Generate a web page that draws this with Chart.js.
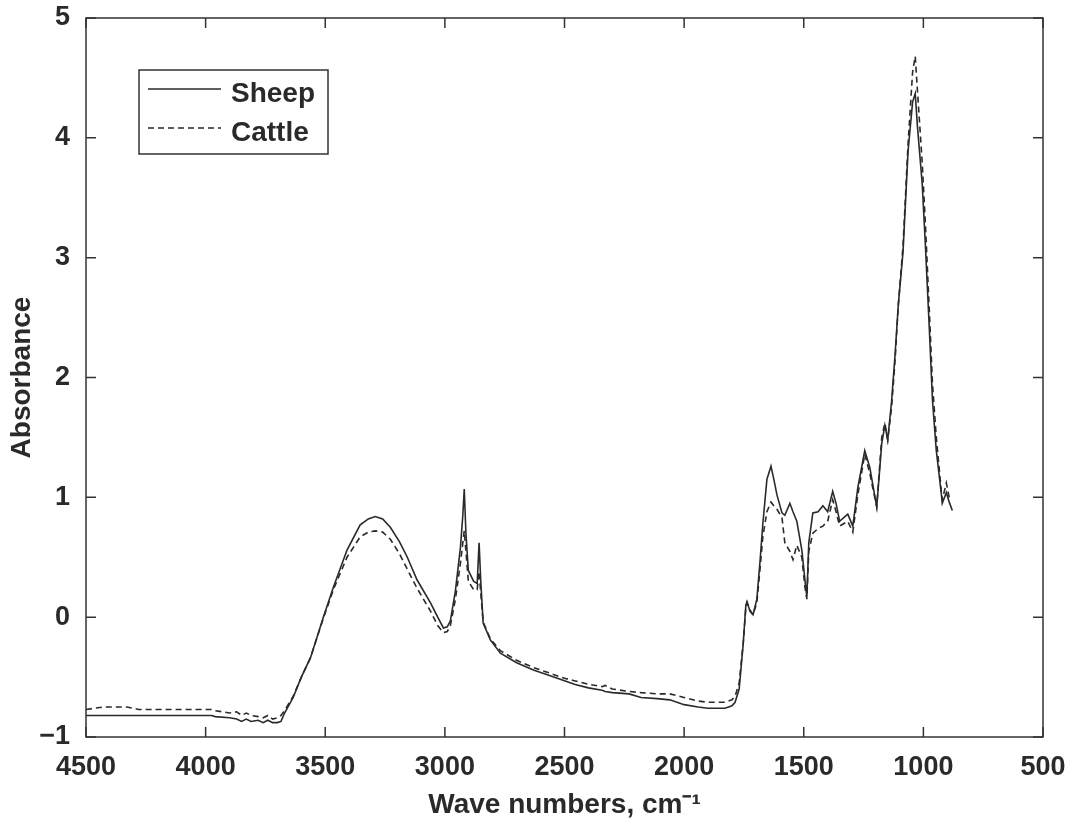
<!DOCTYPE html>
<html>
<head>
<meta charset="utf-8">
<script src="https://cdn.jsdelivr.net/npm/chart.js@4.4.0/dist/chart.umd.min.js"></script>
<style>
  html, body { margin: 0; background: #fff; }
</style>
</head>
<body>
<canvas id="graficoEspectro" width="1073" height="827"></canvas>
<script>
// --- DATOS ---
const numerosOnda = [4500, 4430, 4330, 4280, 3975, 3960, 3900, 3870, 3850, 3830, 3810, 3780, 3760, 3740, 3720, 3700, 3685, 3670, 3634, 3600, 3562, 3508, 3466, 3409, 3354, 3320, 3291, 3260, 3228, 3190, 3157, 3116, 3060, 3030, 3006, 2990, 2977, 2956, 2935, 2925, 2919, 2912, 2902, 2880, 2865, 2857, 2850, 2840, 2810, 2768, 2700, 2630, 2572, 2500, 2459, 2400, 2343, 2330, 2300, 2230, 2180, 2113, 2060, 2000, 1942, 1900, 1829, 1800, 1787, 1770, 1753, 1742, 1737, 1725, 1712, 1696, 1683, 1671, 1654, 1637, 1625, 1612, 1591, 1579, 1558, 1545, 1529, 1508, 1495, 1487, 1479, 1462, 1440, 1420, 1400, 1379, 1365, 1350, 1316, 1295, 1274, 1245, 1224, 1195, 1174, 1161, 1149, 1133, 1118, 1105, 1085, 1064, 1045, 1034, 1025, 1005, 992, 975, 962, 946, 925, 921, 904, 892, 879];

const oveja = [-0.82, -0.82, -0.82, -0.82, -0.82, -0.83, -0.84, -0.85, -0.87, -0.85, -0.87, -0.86, -0.88, -0.86, -0.88, -0.88, -0.87, -0.80, -0.67, -0.50, -0.34, 0.00, 0.25, 0.56, 0.77, 0.82, 0.84, 0.82, 0.75, 0.63, 0.50, 0.31, 0.12, 0.00, -0.09, -0.08, -0.03, 0.22, 0.58, 0.85, 1.07, 0.70, 0.39, 0.30, 0.28, 0.62, 0.30, -0.05, -0.19, -0.30, -0.38, -0.44, -0.48, -0.53, -0.56, -0.59, -0.61, -0.62, -0.63, -0.64, -0.67, -0.68, -0.69, -0.73, -0.75, -0.76, -0.76, -0.74, -0.71, -0.60, -0.22, 0.10, 0.13, 0.05, 0.02, 0.15, 0.46, 0.78, 1.15, 1.26, 1.15, 1.02, 0.87, 0.85, 0.95, 0.88, 0.80, 0.56, 0.31, 0.17, 0.62, 0.87, 0.88, 0.93, 0.88, 1.05, 0.95, 0.80, 0.86, 0.76, 1.08, 1.39, 1.25, 0.92, 1.45, 1.60, 1.48, 1.80, 2.20, 2.60, 3.05, 3.89, 4.30, 4.37, 4.10, 3.62, 3.12, 2.40, 1.81, 1.39, 1.03, 0.95, 1.04, 0.96, 0.89];

const vaca = [-0.77, -0.75, -0.75, -0.77, -0.77, -0.78, -0.80, -0.79, -0.82, -0.80, -0.82, -0.83, -0.84, -0.82, -0.85, -0.84, -0.82, -0.78, -0.66, -0.50, -0.34, -0.01, 0.23, 0.50, 0.67, 0.71, 0.72, 0.71, 0.65, 0.53, 0.40, 0.24, 0.05, -0.07, -0.13, -0.12, -0.07, 0.15, 0.45, 0.62, 0.72, 0.55, 0.30, 0.23, 0.23, 0.38, 0.20, -0.04, -0.18, -0.28, -0.36, -0.42, -0.46, -0.51, -0.53, -0.56, -0.58, -0.57, -0.60, -0.62, -0.63, -0.64, -0.64, -0.67, -0.70, -0.71, -0.71, -0.69, -0.66, -0.55, -0.22, 0.08, 0.12, 0.06, 0.02, 0.12, 0.40, 0.67, 0.88, 0.96, 0.93, 0.90, 0.83, 0.62, 0.55, 0.48, 0.60, 0.50, 0.25, 0.15, 0.55, 0.70, 0.74, 0.76, 0.80, 0.98, 0.88, 0.76, 0.80, 0.71, 1.02, 1.36, 1.20, 0.92, 1.50, 1.62, 1.48, 1.75, 2.15, 2.60, 3.10, 3.95, 4.55, 4.68, 4.40, 3.80, 3.30, 2.55, 1.95, 1.50, 1.05, 0.98, 1.12, 1.00, 0.98];

const etiquetas = ['Sheep', 'Cattle'];
// --- FIN DATOS ---

const fuente = '"Liberation Sans", Arial, Helvetica, sans-serif';
const tinta = '#2a2a2a';
Chart.defaults.font.family = fuente;
Chart.defaults.color = tinta;

// marco, marcas hacia dentro y leyenda estilo MATLAB
const marcoPlugin = {
  id: 'marco',
  afterDraw(chart) {
    const ctx = chart.ctx;
    const a = chart.chartArea;
    const sx = chart.scales.x, sy = chart.scales.y;
    const largo = 10;
    ctx.save();
    ctx.strokeStyle = '#333';
    ctx.lineWidth = 1.5;
    ctx.strokeRect(a.left, a.top, a.right - a.left, a.bottom - a.top);
    ctx.beginPath();
    sx.ticks.forEach(t => {
      const px = sx.getPixelForValue(t.value);
      ctx.moveTo(px, a.bottom); ctx.lineTo(px, a.bottom - largo);
      ctx.moveTo(px, a.top); ctx.lineTo(px, a.top + largo);
    });
    sy.ticks.forEach(t => {
      const py = sy.getPixelForValue(t.value);
      ctx.moveTo(a.left, py); ctx.lineTo(a.left + largo, py);
      ctx.moveTo(a.right, py); ctx.lineTo(a.right - largo, py);
    });
    ctx.stroke();

    // leyenda
    const bx = 139, by = 70, bw = 189, bh = 84;
    ctx.fillStyle = '#fff';
    ctx.fillRect(bx, by, bw, bh);
    ctx.strokeRect(bx, by, bw, bh);
    const filas = [89, 128];
    chart.data.datasets.forEach((ds, i) => {
      ctx.beginPath();
      ctx.strokeStyle = ds.borderColor;
      ctx.lineWidth = ds.borderWidth;
      ctx.setLineDash(ds.borderDash || []);
      ctx.moveTo(148, filas[i]);
      ctx.lineTo(221, filas[i]);
      ctx.stroke();
      ctx.setLineDash([]);
      ctx.fillStyle = tinta;
      ctx.font = 'bold 28px ' + fuente;
      ctx.textBaseline = 'alphabetic';
      ctx.fillText(ds.label, 231, filas[i] + 13);
    });
    ctx.restore();
  }
};

const puntos = valores => numerosOnda.map((x, i) => ({ x: x, y: valores[i] }));

new Chart(document.getElementById('graficoEspectro').getContext('2d'), {
  type: 'line',
  data: {
    datasets: [{
      label: etiquetas[0],
      data: puntos(oveja),
      borderColor: tinta,
      borderWidth: 1.6,
      pointRadius: 0,
      tension: 0
    }, {
      label: etiquetas[1],
      data: puntos(vaca),
      borderColor: tinta,
      borderWidth: 1.6,
      borderDash: [6, 4],
      pointRadius: 0,
      tension: 0
    }]
  },
  options: {
    responsive: false,
    animation: false,
    layout: { padding: { top: 18, right: 30, left: 0, bottom: 0 } },
    plugins: {
      legend: { display: false },
      tooltip: { enabled: false }
    },
    scales: {
      x: {
        type: 'linear',
        reverse: true,
        min: 500,
        max: 4500,
        grid: { display: false, drawTicks: false },
        border: { display: false },
        ticks: {
          stepSize: 500,
          padding: 14,
          maxRotation: 0,
          autoSkip: false,
          font: { size: 27, weight: 'bold' },
          color: tinta,
          callback: v => String(v)
        },
        title: {
          display: true,
          text: 'Wave numbers, cm\u207B\u00B9',
          font: { size: 28, weight: 'bold' },
          color: tinta,
          padding: { top: 0, bottom: 5 }
        },
        afterFit: s => { s.height = 90; s.paddingLeft = 0; s.paddingRight = 0; }
      },
      y: {
        min: -1,
        max: 5,
        grid: { display: false, drawTicks: false },
        border: { display: false },
        ticks: {
          stepSize: 1,
          padding: 16,
          font: { size: 27, weight: 'bold' },
          color: tinta,
          callback: v => String(v).replace('-', '\u2212')
        },
        title: {
          display: true,
          text: 'Absorbance',
          font: { size: 28, weight: 'bold' },
          color: tinta,
          padding: { top: 5, bottom: 0 }
        },
        afterFit: s => { s.width = 86; s.paddingTop = 0; s.paddingBottom = 0; }
      }
    }
  },
  plugins: [marcoPlugin]
});
</script>
</body>
</html>
